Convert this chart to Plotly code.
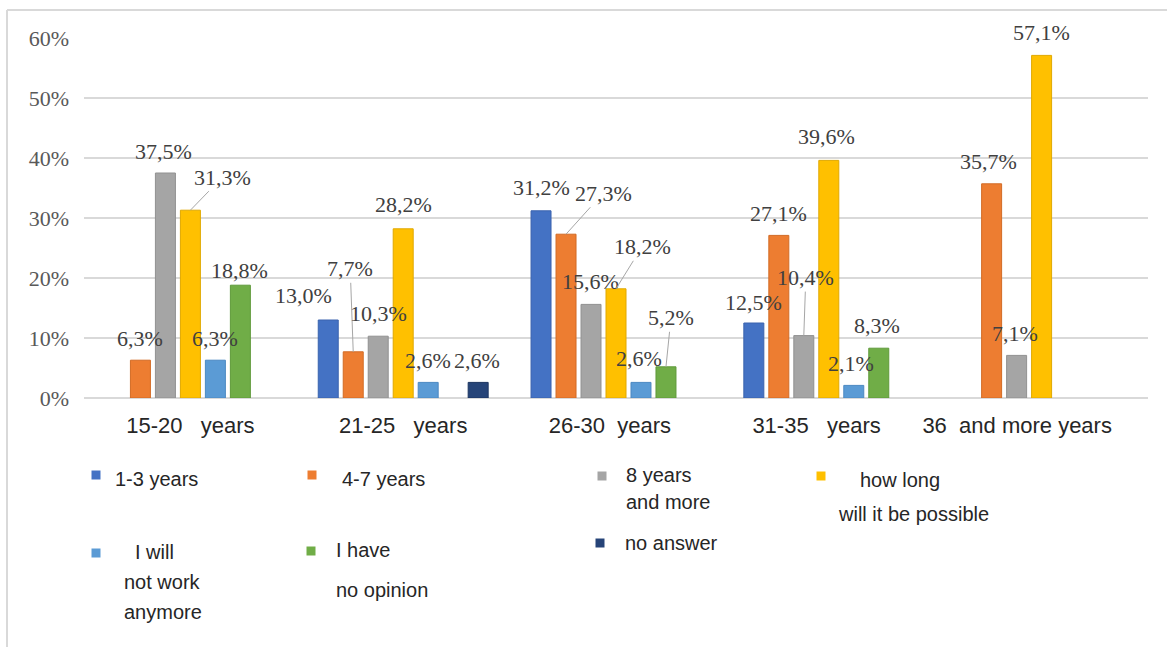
import plotly.graph_objects as go

# ---- data -------------------------------------------------------------
NB = "\u00a0"
age_groups = ["15-20   years", "21-25   years", "26-30  years" + NB * 2,
              "31-35   years" + NB * 4, "36  and more years" + NB * 8]

series_names = ["1-3 years", "4-7 years", "8 years and more",
                "how long will it be possible", "I will not work anymore",
                "I have no opinion", "no answer"]

v_1_3 = [None, 13.0, 31.2, 12.5, None]
v_4_7 = [6.3, 7.7, 27.3, 27.1, 35.7]
v_8_more = [37.5, 10.3, 15.6, 10.4, 7.1]
v_how_long = [31.3, 28.2, 18.2, 39.6, 57.1]
v_not_work = [6.3, 2.6, 2.6, 2.1, None]
v_no_opinion = [18.8, None, 5.2, 8.3, None]
v_no_answer = [None, 2.6, None, None, None]

series_values = [v_1_3, v_4_7, v_8_more, v_how_long,
                 v_not_work, v_no_opinion, v_no_answer]

colors = ["#4472C4", "#ED7D31", "#A5A5A5", "#FFC000",
          "#5B9BD5", "#70AD47", "#264478"]
edge_colors = ["#3A63AE", "#D26B25", "#919191", "#E0A800",
               "#4C89C2", "#5F9A3A", "#1C3560"]

# ---- layout geometry ---------------------------------------------------
W, H = 1167, 647
ML, MR, MT, MB = 84, 19, 38, 249
PW, PH = W - ML - MR, H - MT - MB
BARGAP, GROUPGAP = 0.178, 0.2
slot = (1 - BARGAP) / len(series_names)


def px_x(px):
    return (px - ML) / PW


def px_y(py):
    return (H - MB - py) / PH


fig = go.Figure()
for name, vals, col, edge in zip(series_names, series_values, colors, edge_colors):
    fig.add_trace(go.Bar(
        x=list(range(len(age_groups))), y=vals, name=name,
        marker=dict(color=col, line=dict(color=edge, width=1)),
        showlegend=False, hoverinfo="skip",
    ))

# ---- value labels (offset in px from the bar top; some with leader lines)
label_offsets = {
    (1, 0): (0, -22, False), (2, 0): (-2, -22, False), (3, 0): (32, -33, True),
    (4, 0): (0, -22, False), (5, 0): (-1, -15, False),
    (0, 1): (-25, -25, False), (1, 1): (-3, -83, True), (2, 1): (0, -23, False),
    (3, 1): (0, -24, False), (4, 1): (0, -22, False), (6, 1): (-1, -22, False),
    (0, 2): (0, -23, False), (1, 2): (37, -41, True), (2, 2): (-1, -23, False),
    (3, 2): (26, -42, True), (4, 2): (-2, -24, False), (5, 2): (5, -49, True),
    (0, 3): (0, -21, False), (1, 3): (0, -22, False), (2, 3): (2, -58, True),
    (3, 3): (-2, -24, False), (4, 3): (-3, -22, False), (5, 3): (-2, -23, False),
    (1, 4): (-3, -22, False), (2, 4): (-2, -22, False), (3, 4): (0, -23, False),
}

annotations = []
n_series = len(series_names)
for s, vals in enumerate(series_values):
    for g, v in enumerate(vals):
        if v is None:
            continue
        dx, dy, leader = label_offsets.get((s, g), (0, -23, False))
        annotations.append(dict(
            x=g + (s - (n_series - 1) / 2) * slot, y=v, xref="x", yref="y",
            text=f"{v:.1f}".replace(".", ",") + "%",
            showarrow=True, ax=dx, ay=dy, arrowhead=0, standoff=0,
            arrowwidth=1,
            arrowcolor="#A6A6A6" if leader else "rgba(0,0,0,0)",
            font=dict(family="Liberation Serif", size=22, color="#404040"),
        ))

# ---- legend (square swatch + individually placed text lines) ----------
legend_items = [
    (0, (96, 475), [("1-3 years", 113, 479)]),
    (1, (312, 475), [("4-7 years", 340, 479)]),
    (2, (602, 476), [("8 years", 624, 475), ("and more", 624, 502)]),
    (3, (821, 476), [("how long", 858, 480), ("will it be possible", 836, 514)]),
    (4, (96, 553), [("I will", 133, 552), ("not work", 122, 582), ("anymore", 122, 612)]),
    (5, (311, 551), [("I have", 334, 550), ("no opinion", 334, 590)]),
    (6, (600, 543), [("no answer", 623, 543)]),
]

shapes = []
half = 4.5
for s, (cx, cy), lines in legend_items:
    shapes.append(dict(
        type="rect", xref="paper", yref="paper",
        x0=px_x(cx - half), x1=px_x(cx + half),
        y0=px_y(cy + half), y1=px_y(cy - half),
        fillcolor=colors[s], line=dict(width=0),
    ))
    for txt, lx, ly in lines:
        annotations.append(dict(
            x=px_x(lx), y=px_y(ly), xref="paper", yref="paper",
            text=txt, showarrow=False, xanchor="left", yanchor="middle",
            font=dict(family="Liberation Sans", size=20, color="#262626"),
        ))

# chart frame: top and left border lines
shapes.append(dict(type="line", xref="paper", yref="paper",
                   x0=px_x(7), x1=px_x(W + 5), y0=px_y(10), y1=px_y(10),
                   line=dict(color="#D9D9D9", width=2)))
shapes.append(dict(type="line", xref="paper", yref="paper",
                   x0=px_x(7), x1=px_x(7), y0=px_y(10), y1=px_y(H + 5),
                   line=dict(color="#D9D9D9", width=2)))

fig.update_layout(
    width=W, height=H, autosize=False,
    margin=dict(l=ML, r=MR, t=MT, b=MB, pad=0),
    paper_bgcolor="white", plot_bgcolor="white",
    barmode="group", bargap=BARGAP, bargroupgap=GROUPGAP,
    annotations=annotations, shapes=shapes,
    xaxis=dict(
        range=[-0.5, len(age_groups) - 0.5],
        tickmode="array", tickvals=list(range(len(age_groups))),
        ticktext=age_groups, showgrid=False, showline=False, zeroline=False,
        ticks="", ticklabelstandoff=12, automargin=False,
        tickfont=dict(family="Liberation Sans", size=22, color="#262626"),
    ),
    yaxis=dict(
        range=[0, 60], dtick=10, ticksuffix="%",
        showgrid=True, gridcolor="#D9D9D9", gridwidth=1.5,
        zeroline=True, zerolinecolor="#D9D9D9", zerolinewidth=1.5,
        showline=False, ticks="", ticklabelstandoff=14, automargin=False,
        tickfont=dict(family="Liberation Serif", size=22, color="#595959"),
    ),
)

fig.write_html("out.html")
